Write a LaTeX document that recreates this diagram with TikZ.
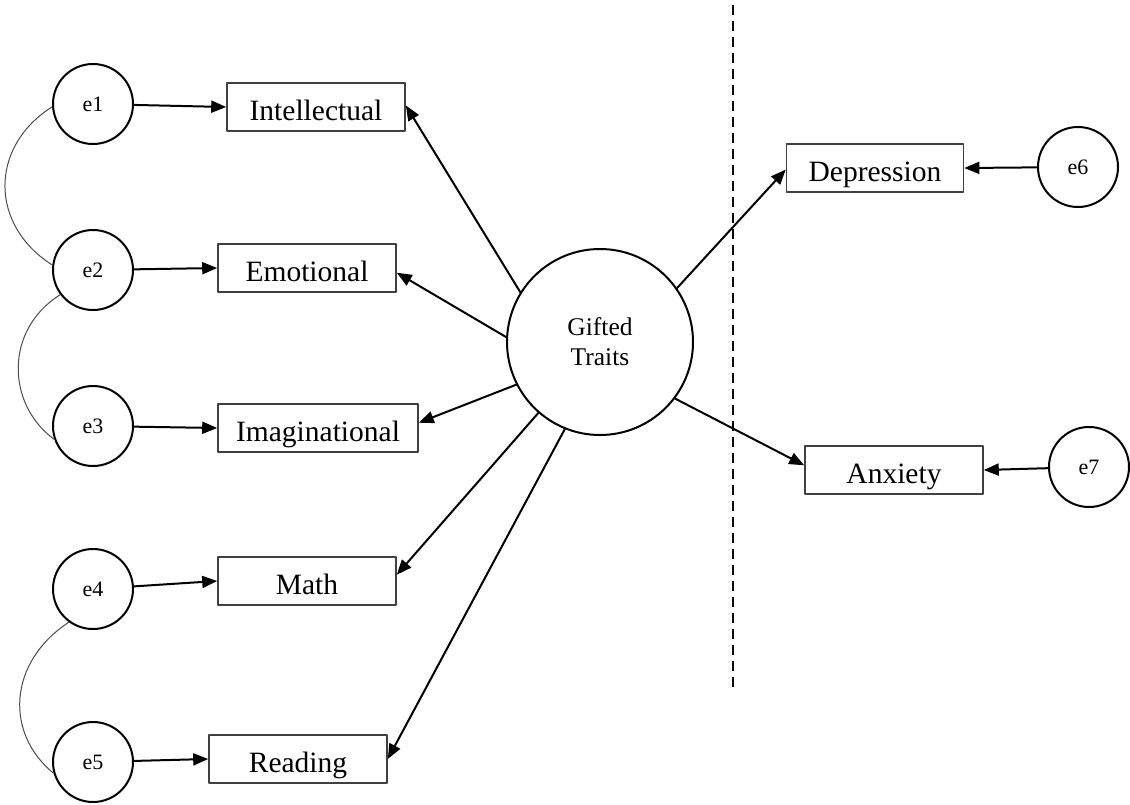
\documentclass[tikz,border=0pt]{standalone}
\usepackage{fontspec}
\setmainfont{Liberation Serif}
\usetikzlibrary{arrows.meta}

\begin{document}
\begin{tikzpicture}[x=1pt, y=-1pt, line cap=round, line join=round,
  >={Triangle[length=15pt,width=12pt]},
  obs/.style={draw=black!75, line width=1.6pt, minimum height=48pt, inner sep=0pt,
    text height=29pt, text depth=3pt, font=\fontsize{29.5}{34}\selectfont},
  err/.style={circle, draw, line width=2pt, minimum size=80pt, inner sep=0pt,
    font=\fontsize{22}{26}\selectfont},
  latent/.style={circle, draw, line width=2pt, minimum size=186pt, inner sep=0pt,
    align=center, font=\fontsize{25.5}{30}\selectfont},
  load/.style={->, line width=2pt},
  cov/.style={line width=1pt, draw=black!70}]
  \useasboundingbox (0,0) rectangle (1130,804);

  % Latent factor in the middle.
  \node[latent] (gt) at (600,342) {Gifted\\Traits};

  % Indicators on the left.
  \node[obs, minimum width=178pt] (intel) at (316,107) {Intellectual};
  \node[obs, minimum width=178pt] (emo)   at (307,268) {Emotional};
  \node[obs, minimum width=200pt] (imag)  at (318,428) {Imaginational};
  \node[obs, minimum width=178pt] (math)  at (307,581) {Math};
  \node[obs, minimum width=178pt] (read)  at (298,759) {Reading};

  % Outcomes on the right.
  \node[obs, minimum width=177pt] (dep) at (875,168) {Depression};
  \node[obs, minimum width=178pt] (anx) at (894,470) {Anxiety};

  % Error terms.
  \node[err] (e1) at (93,104) {e1};
  \node[err] (e2) at (93,270) {e2};
  \node[err] (e3) at (93,426) {e3};
  \node[err] (e4) at (93,589) {e4};
  \node[err] (e5) at (93,762) {e5};
  \node[err] (e6) at (1078,167) {e6};
  \node[err] (e7) at (1089,467) {e7};

  % Split between the two parts of the model.
  \draw[line width=2pt, line cap=butt, dash pattern=on 10pt off 6pt] (733,5) -- (733,690);

  % Loadings.
  \draw[load] (gt.148) -- (intel.1);
  \draw[load] (gt.177) -- (emo.-3);
  \draw[load] (gt.207) -- (imag.3);
  \draw[load] (gt.229) -- (math.4);
  \draw[load] (gt.248) -- (read.east);
  \draw[load] (gt.35)  -- (dep.181);
  \draw[load] (gt.-37) -- (anx.177);

  % Errors into the indicators.
  \draw[load] (e1) -- (intel.west);
  \draw[load] (e2) -- (emo.west);
  \draw[load] (e3) -- (imag.west);
  \draw[load] (e4) -- (math.west);
  \draw[load] (e5) -- (read.west);
  \draw[load] (e6) -- (dep.east);
  \draw[load] (e7) -- (anx.east);

  % Correlated errors.
  \draw[cov] (e1.184) .. controls +(-63,40) and +(-63,-40) .. (e2.173);
  \draw[cov] (e2.217) .. controls +(-56,35) and +(-48,-35) .. (e3.199);
  \draw[cov] (e4.234) .. controls +(-61,40) and +(-49,-40) .. (e5.196);
\end{tikzpicture}
\end{document}
